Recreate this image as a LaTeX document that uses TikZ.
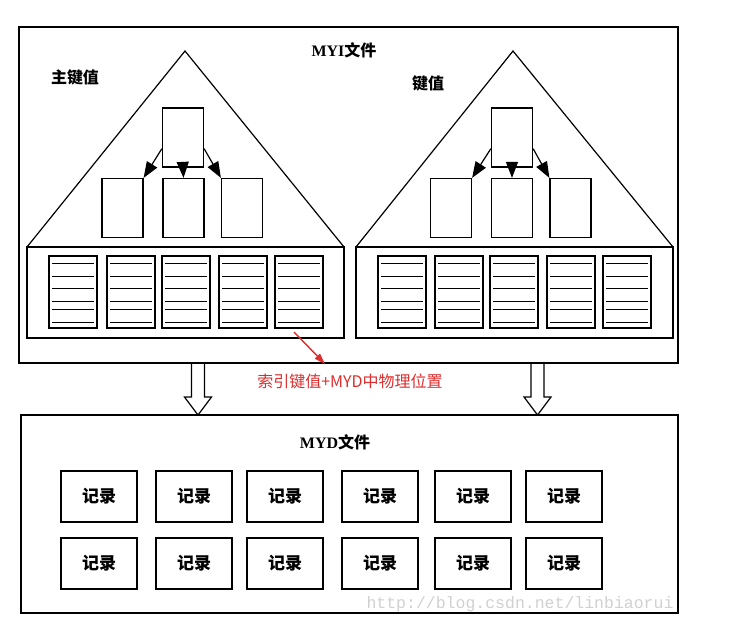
\documentclass[tikz,border=0pt]{standalone}
\usepackage{fontspec}
\setmainfont{Liberation Serif}
\newfontfamily\cjk{Noto Sans CJK SC}
\newfontfamily\wmfont{Liberation Mono}
\usetikzlibrary{arrows.meta}
\definecolor{notered}{RGB}{222,45,45}
\definecolor{wmgray}{RGB}{208,208,208}

\begin{document}
\begin{tikzpicture}[x=1pt, y=-1pt, line width=1.2pt,
  every node/.style={font=\bfseries\fontsize{16}{18}\selectfont},
  keybox/.style={draw, inner sep=0pt, minimum width=41pt, minimum height=59pt},
  recbox/.style={draw, inner sep=0pt, minimum width=76pt, minimum height=51pt, font=\bfseries\fontsize{17}{19}\selectfont},
  treearrow/.style={-{Triangle[length=16pt, width=12pt]}}]
	\useasboundingbox (0,0) rectangle (740,629);

	% Files
	\node[draw, inner sep=0pt, minimum width=659pt, minimum height=336pt] (myi) at (348.5,195) {};
	\node[draw, inner sep=0pt, minimum width=657pt, minimum height=198pt] (myd) at (349.5,514) {};
	\node (myilbl) at (344,50) {MYI{\cjk 文件}};
	\node (mydlbl) at (335,442) {MYD{\cjk 文件}};

	% Index trees
	\draw (27,247) -- (185,51) -- (344,247);
	\draw (27,247) rectangle (344,338);
	\draw (356,247) -- (513,51) -- (673,247);
	\draw (356,247) rectangle (673,338);
	\node (pklbl) at (75,77) {\cjk 主键值};
	\node (keylbl) at (428,83) {\cjk 键值};

	% Left tree
	\node[keybox] (lt) at (183,137.5) {};
	\node[keybox] (ll) at (122.5,208) {};
	\node[keybox] (lm) at (183.5,208) {};
	\node[keybox] (lr) at (242,208) {};
	\draw[treearrow] ([yshift=19pt]lt.south west) -- (ll.north east);
	\draw[treearrow] (lt.south) -- (lm.north);
	\draw[treearrow] ([yshift=19pt]lt.south east) -- (lr.north west);
	% Right tree
	\node[keybox] (rt) at (512,137.5) {};
	\node[keybox] (rl) at (451,208) {};
	\node[keybox] (rm) at (512,208) {};
	\node[keybox] (rr) at (570.5,208) {};
	\draw[treearrow] ([yshift=19pt]rt.south west) -- (rl.north east);
	\draw[treearrow] (rt.south) -- (rm.north);
	\draw[treearrow] ([yshift=19pt]rt.south east) -- (rr.north west);

	% Leaf pages
	\foreach \x in {49,107,162,219,275,378,435,490,547,603} {
		\draw (\x,256) rectangle (\x+48,328);
		\foreach \y in {263,276,288,301,309,322}
			\draw[line width=1pt] (\x+3,\y) -- (\x+45,\y);
	}

	% Pointer note
	\coordinate (ptr) at (294,332);
	\coordinate (tip) at (325,364);
	\draw[notered, line width=1.4pt, -{Triangle[length=11pt, width=7pt]}] (ptr) -- (tip);
	\node[notered, font=\cjk\fontsize{16}{18}\selectfont] (ptrlbl) at (350,381) {索引键值+MYD中物理位置};

	% Hollow arrows
	\foreach \x in {198,537.5}
		\draw (\x-6.5,363) -- (\x-6.5,397) -- (\x-13.5,397) -- (\x,415) -- (\x+13.5,397) -- (\x+6.5,397) -- (\x+6.5,363);

	% Records
	\foreach \x [count=\i] in {99,194,285,380,473,564} {
		\node[recbox] (ra\i) at (\x,496.5) {\cjk 记录};
		\node[recbox] (rb\i) at (\x,563.5) {\cjk 记录};
	}

	\node[wmgray, font=\wmfont\fontsize{16.5}{18}\selectfont] (wm) at (520,604) {http://blog.csdn.net/linbiaorui};
\end{tikzpicture}
\end{document}
